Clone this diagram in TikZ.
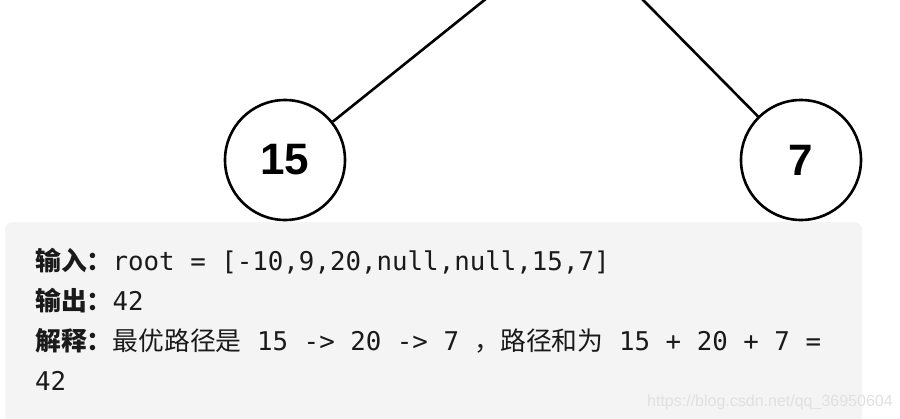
\documentclass[tikz,border=0pt]{standalone}
\usepackage{fontspec}
\setmainfont{Liberation Sans}
\setmonofont{DejaVu Sans Mono}
\newfontfamily\cjk{Noto Sans CJK SC}
\usepackage{xcolor}
\usetikzlibrary{positioning}
\definecolor{codebg}{HTML}{F4F4F4}
\definecolor{codeink}{HTML}{1A1A1A}
\definecolor{markgray}{HTML}{E0E0E0}

\begin{document}
\begin{tikzpicture}[
    x=1pt, y=-1pt,
    treenode/.style={
        draw,
        circle,
        line width=2.6pt,
        minimum size=120pt,
        inner sep=0pt,
        font=\fontsize{44}{44}\selectfont\bfseries
    },
    edge/.style={line width=2.6pt},
    codebox/.style={
        fill=codebg,
        rounded corners=7pt,
        anchor=north west,
        minimum width=857pt,
        minimum height=230pt,
        inner sep=0pt
    },
    codeline/.style={
        anchor=base west,
        inner sep=0pt,
        text=codeink,
        font=\fontsize{25.8}{30}\selectfont\ttfamily
    }
]
\clip (0,0) rectangle (900,418);

% tree part (root above the picture)
\coordinate (p20) at (573,-71);
\node[treenode] (n15) at (285,160) {15};
\node[treenode] (n7) at (801,160) {7};
\draw[edge] (p20) -- (n15);
\draw[edge] (p20) -- (n7);

% example block
\node[codebox] (box) at (5,222) {};
\node[codeline] (in) at (35,270) {{\cjk\bfseries 输入：}root = [-10,9,20,null,null,15,7]};
\node[codeline] (out) at (35,310) {{\cjk\bfseries 输出：}42};
\node[codeline] (expl) at (35,350) {{\cjk\bfseries 解释：}{\cjk 最优路径是} 15 -> 20 -> 7 {\cjk ，路径和为} 15 + 20 + 7 =};
\node[codeline] (expl2) at (35,390) {42};

\node[anchor=base west, inner sep=0pt, text=markgray, font=\fontsize{16}{16}\selectfont] (mark) at (647,406) {https://blog.csdn.net/qq\_36950604};
\end{tikzpicture}
\end{document}
